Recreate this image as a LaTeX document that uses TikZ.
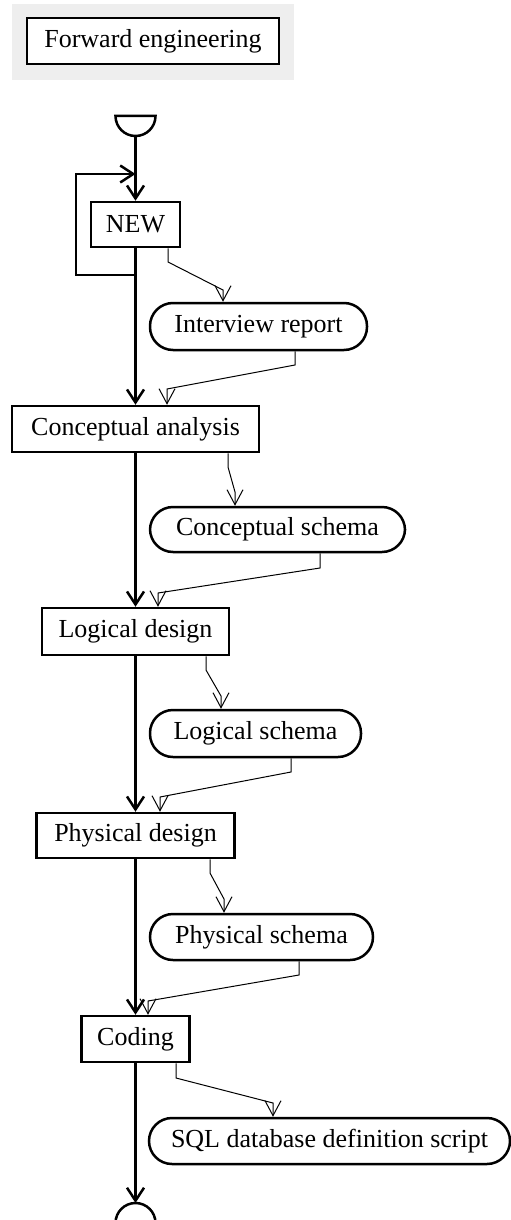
\documentclass[tikz,border=0pt]{standalone}
\usepackage{fontspec}
\setmainfont{Liberation Serif}
\usetikzlibrary{arrows.meta}
\definecolor{bggray}{RGB}{238,238,238}
\tikzset{
  act/.style={draw=black, line width=2.5pt, fill=white, inner sep=0pt, font=\fontsize{26}{30}\selectfont},
  obj/.style={act, rounded corners=23pt},
  flow/.style={line width=2.5pt, -{Straight Barb[length=13pt,width=17pt]}},
  dflow/.style={line width=1pt, -{Straight Barb[length=15pt,width=16pt]}},
}
\begin{document}
\begin{tikzpicture}[x=1pt,y=-1pt]
\useasboundingbox (0,0) rectangle (511,1220);
\fill[bggray] (12,4) rectangle (294,80);
\node[act, minimum width=252pt, minimum height=46pt] (title) at (153,41) {Forward engineering};

% start / end symbols
\draw[line width=2.5pt] (115.5,116) arc[start angle=180,end angle=360,radius=20pt] -- cycle;
\coordinate (start) at (135.5,136);
\draw[line width=2.5pt] (115.5,1223) arc[start angle=180,end angle=0,radius=20pt] -- cycle;
\coordinate (finish) at (135.5,1203);

% activities
\node[act, minimum width=89pt, minimum height=45pt] (new) at (135.5,224.5) {NEW};
\node[act, minimum width=247pt, minimum height=46pt] (concept) at (135.5,429) {Conceptual analysis};
\node[act, minimum width=187pt, minimum height=47pt] (logical) at (135.5,631.5) {Logical design};
\node[act, minimum width=198pt, minimum height=45pt] (physical) at (135.5,835.5) {Physical design};
\node[act, minimum width=108pt, minimum height=46pt] (coding) at (135.5,1039) {Coding};

% objects
\node[obj, minimum width=217pt, minimum height=47pt] (interview) at (258.5,326.5) {Interview report};
\node[obj, minimum width=255pt, minimum height=45pt] (cschema) at (277.5,529.5) {Conceptual schema};
\node[obj, minimum width=211pt, minimum height=47pt] (lschema) at (255.5,733.5) {Logical schema};
\node[obj, minimum width=223pt, minimum height=46pt] (pschema) at (261.5,937) {Physical schema};
\node[obj, minimum width=361pt, minimum height=46pt] (sql) at (329.5,1141) {SQL database definition script};

% control flow
\coordinate (loopfrom) at (135.5,275);
\coordinate (loopto) at (135.5,174);
\draw[flow] (start) -- (new.north);
\draw[flow] (new.south) -- (concept.north);
\draw[flow] (loopfrom) -- (76,275) -- (76,174) -- (loopto);
\draw[flow] (concept.south) -- (logical.north);
\draw[flow] (logical.south) -- (physical.north);
\draw[flow] (physical.south) -- (coding.north);
\draw[flow] (coding.south) -- (finish);

% object flow
\draw[dflow] (168,0 |- new.south) -- (168,262) -- (223,290) -- (223,0 |- interview.north);
\draw[dflow] (295,0 |- interview.south) -- (295,365) -- (167,389) -- (167,0 |- concept.north);
\draw[dflow] (228,0 |- concept.south) -- (228,467) -- (235,492) -- (235,0 |- cschema.north);
\draw[dflow] (320,0 |- cschema.south) -- (320,568) -- (158,593) -- (158,0 |- logical.north);
\draw[dflow] (206,0 |- logical.south) -- (206,670) -- (221,696) -- (221,0 |- lschema.north);
\draw[dflow] (291,0 |- lschema.south) -- (291,772) -- (160,797) -- (160,0 |- physical.north);
\draw[dflow] (210,0 |- physical.south) -- (210,873) -- (224,899) -- (224,0 |- pschema.north);
\draw[dflow] (299,0 |- pschema.south) -- (299,975) -- (148,1001) -- (148,0 |- coding.north);
\draw[dflow] (176,0 |- coding.south) -- (176,1078) -- (273,1103) -- (273,0 |- sql.north);
\end{tikzpicture}
\end{document}
